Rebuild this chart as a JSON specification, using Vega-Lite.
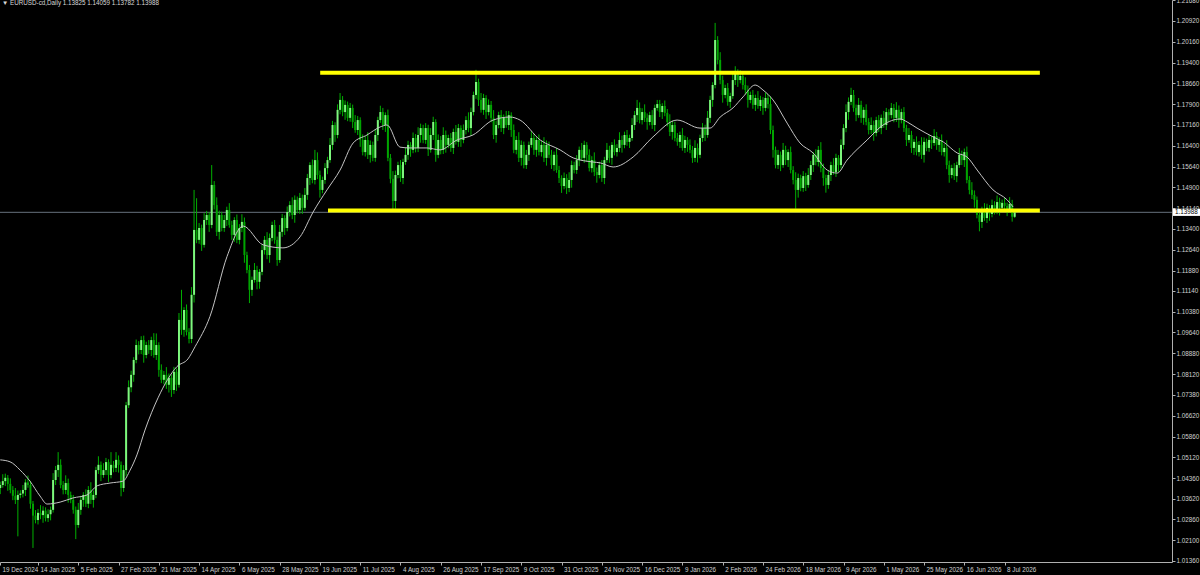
{
"$schema": "https://vega.github.io/schema/vega-lite/v6.json",
"width": 1172,
"height": 562,
"autosize": "none",
"padding": {"left": 0, "top": 0, "right": 28, "bottom": 13},
"background": "#000000",
"config": {"view": {"stroke": null}, "font": "Liberation Sans", "axis": {"labelOverlap": false, "labelBound": false, "labelFlush": false, "grid": false, "labelFont": "Liberation Sans", "labelFontSize": 6.3, "labelColor": "#D0D0D0", "domainColor": "#B0B0B0", "tickColor": "#B0B0B0", "tickSize": 3, "labelPadding": 1, "title": null}},
"title": {"text": "▼ EURUSD-cd,Daily  1.13825 1.14059 1.13782 1.13988", "anchor": "start", "frame": "group", "orient": "top", "offset": -9, "fontSize": 6.3, "fontWeight": "normal", "color": "#D8D8D8", "dx": 2, "font": "Liberation Sans"},
"datasets": {
"k": [
{"i":1,"o":1.0400,"h":1.0423,"l":1.0378,"c":1.0411},
{"i":2,"o":1.0411,"h":1.0450,"l":1.0401,"c":1.0425},
{"i":3,"o":1.0425,"h":1.0452,"l":1.0407,"c":1.0437},
{"i":4,"o":1.0437,"h":1.0447,"l":1.0390,"c":1.0415},
{"i":5,"o":1.0415,"h":1.0435,"l":1.0381,"c":1.0393},
{"i":6,"o":1.0393,"h":1.0407,"l":1.0356,"c":1.0372},
{"i":7,"o":1.0372,"h":1.0400,"l":1.0342,"c":1.0357},
{"i":8,"o":1.0357,"h":1.0391,"l":1.0225,"c":1.0375},
{"i":9,"o":1.0375,"h":1.0392,"l":1.0363,"c":1.0380},
{"i":10,"o":1.0380,"h":1.0411,"l":1.0366,"c":1.0393},
{"i":11,"o":1.0393,"h":1.0432,"l":1.0371,"c":1.0420},
{"i":12,"o":1.0420,"h":1.0445,"l":1.0401,"c":1.0411},
{"i":13,"o":1.0411,"h":1.0426,"l":1.0325,"c":1.0343},
{"i":14,"o":1.0343,"h":1.0353,"l":1.0183,"c":1.0300},
{"i":15,"o":1.0300,"h":1.0320,"l":1.0272,"c":1.0284},
{"i":16,"o":1.0284,"h":1.0324,"l":1.0268,"c":1.0310},
{"i":17,"o":1.0310,"h":1.0338,"l":1.0287,"c":1.0302},
{"i":18,"o":1.0302,"h":1.0334,"l":1.0274,"c":1.0318},
{"i":19,"o":1.0318,"h":1.0330,"l":1.0279,"c":1.0291},
{"i":20,"o":1.0291,"h":1.0323,"l":1.0277,"c":1.0305},
{"i":21,"o":1.0305,"h":1.0333,"l":1.0283,"c":1.0321},
{"i":22,"o":1.0321,"h":1.0454,"l":1.0311,"c":1.0429},
{"i":23,"o":1.0429,"h":1.0480,"l":1.0411,"c":1.0465},
{"i":24,"o":1.0465,"h":1.0530,"l":1.0440,"c":1.0484},
{"i":25,"o":1.0484,"h":1.0504,"l":1.0399,"c":1.0411},
{"i":26,"o":1.0411,"h":1.0425,"l":1.0377,"c":1.0393},
{"i":27,"o":1.0393,"h":1.0446,"l":1.0378,"c":1.0418},
{"i":28,"o":1.0418,"h":1.0434,"l":1.0347,"c":1.0375},
{"i":29,"o":1.0375,"h":1.0387,"l":1.0345,"c":1.0357},
{"i":30,"o":1.0357,"h":1.0375,"l":1.0307,"c":1.0321},
{"i":31,"o":1.0321,"h":1.0333,"l":1.0215,"c":1.0266},
{"i":32,"o":1.0266,"h":1.0346,"l":1.0256,"c":1.0321},
{"i":33,"o":1.0321,"h":1.0372,"l":1.0303,"c":1.0357},
{"i":34,"o":1.0357,"h":1.0385,"l":1.0332,"c":1.0375},
{"i":35,"o":1.0375,"h":1.0395,"l":1.0331,"c":1.0343},
{"i":36,"o":1.0343,"h":1.0407,"l":1.0327,"c":1.0393},
{"i":37,"o":1.0393,"h":1.0421,"l":1.0342,"c":1.0357},
{"i":38,"o":1.0357,"h":1.0391,"l":1.0329,"c":1.0375},
{"i":39,"o":1.0375,"h":1.0477,"l":1.0363,"c":1.0465},
{"i":40,"o":1.0465,"h":1.0515,"l":1.0451,"c":1.0484},
{"i":41,"o":1.0484,"h":1.0496,"l":1.0425,"c":1.0447},
{"i":42,"o":1.0447,"h":1.0490,"l":1.0437,"c":1.0465},
{"i":43,"o":1.0465,"h":1.0509,"l":1.0447,"c":1.0494},
{"i":44,"o":1.0494,"h":1.0504,"l":1.0422,"c":1.0447},
{"i":45,"o":1.0447,"h":1.0530,"l":1.0435,"c":1.0484},
{"i":46,"o":1.0484,"h":1.0498,"l":1.0457,"c":1.0473},
{"i":47,"o":1.0473,"h":1.0530,"l":1.0458,"c":1.0502},
{"i":48,"o":1.0502,"h":1.0518,"l":1.0456,"c":1.0484},
{"i":49,"o":1.0484,"h":1.0496,"l":1.0370,"c":1.0400},
{"i":50,"o":1.0400,"h":1.0483,"l":1.0386,"c":1.0465},
{"i":51,"o":1.0465,"h":1.0712,"l":1.0443,"c":1.0700},
{"i":52,"o":1.0700,"h":1.0790,"l":1.0690,"c":1.0765},
{"i":53,"o":1.0765,"h":1.0825,"l":1.0747,"c":1.0810},
{"i":54,"o":1.0810,"h":1.0874,"l":1.0785,"c":1.0864},
{"i":55,"o":1.0864,"h":1.0938,"l":1.0852,"c":1.0918},
{"i":56,"o":1.0918,"h":1.0932,"l":1.0884,"c":1.0900},
{"i":57,"o":1.0900,"h":1.0950,"l":1.0885,"c":1.0936},
{"i":58,"o":1.0936,"h":1.0952,"l":1.0854,"c":1.0882},
{"i":59,"o":1.0882,"h":1.0930,"l":1.0870,"c":1.0918},
{"i":60,"o":1.0918,"h":1.0936,"l":1.0886,"c":1.0900},
{"i":61,"o":1.0900,"h":1.0948,"l":1.0878,"c":1.0936},
{"i":62,"o":1.0936,"h":1.0961,"l":1.0872,"c":1.0882},
{"i":63,"o":1.0882,"h":1.0960,"l":1.0864,"c":1.0918},
{"i":64,"o":1.0918,"h":1.0928,"l":1.0803,"c":1.0828},
{"i":65,"o":1.0828,"h":1.0848,"l":1.0780,"c":1.0792},
{"i":66,"o":1.0792,"h":1.0824,"l":1.0776,"c":1.0810},
{"i":67,"o":1.0810,"h":1.0838,"l":1.0759,"c":1.0774},
{"i":68,"o":1.0774,"h":1.0815,"l":1.0746,"c":1.0799},
{"i":69,"o":1.0799,"h":1.0811,"l":1.0730,"c":1.0755},
{"i":70,"o":1.0755,"h":1.0839,"l":1.0741,"c":1.0821},
{"i":71,"o":1.0821,"h":1.0833,"l":1.0752,"c":1.0774},
{"i":72,"o":1.0774,"h":1.1034,"l":1.0764,"c":1.1009},
{"i":73,"o":1.1009,"h":1.1118,"l":1.0955,"c":1.0973},
{"i":74,"o":1.0973,"h":1.1055,"l":1.0948,"c":1.1045},
{"i":75,"o":1.1045,"h":1.1065,"l":1.0953,"c":1.0965},
{"i":76,"o":1.0965,"h":1.0979,"l":1.0924,"c":1.0940},
{"i":77,"o":1.0940,"h":1.1128,"l":1.0925,"c":1.1100},
{"i":78,"o":1.1100,"h":1.1480,"l":1.1072,"c":1.1335},
{"i":79,"o":1.1335,"h":1.1450,"l":1.1287,"c":1.1299},
{"i":80,"o":1.1299,"h":1.1360,"l":1.1285,"c":1.1342},
{"i":81,"o":1.1342,"h":1.1354,"l":1.1259,"c":1.1281},
{"i":82,"o":1.1281,"h":1.1396,"l":1.1271,"c":1.1371},
{"i":83,"o":1.1371,"h":1.1404,"l":1.1353,"c":1.1389},
{"i":84,"o":1.1389,"h":1.1399,"l":1.1328,"c":1.1353},
{"i":85,"o":1.1353,"h":1.1570,"l":1.1341,"c":1.1498},
{"i":86,"o":1.1498,"h":1.1512,"l":1.1409,"c":1.1425},
{"i":87,"o":1.1425,"h":1.1453,"l":1.1313,"c":1.1328},
{"i":88,"o":1.1328,"h":1.1405,"l":1.1300,"c":1.1389},
{"i":89,"o":1.1389,"h":1.1401,"l":1.1330,"c":1.1342},
{"i":90,"o":1.1342,"h":1.1389,"l":1.1328,"c":1.1371},
{"i":91,"o":1.1371,"h":1.1419,"l":1.1349,"c":1.1407},
{"i":92,"o":1.1407,"h":1.1432,"l":1.1343,"c":1.1353},
{"i":93,"o":1.1353,"h":1.1368,"l":1.1299,"c":1.1317},
{"i":94,"o":1.1317,"h":1.1381,"l":1.1292,"c":1.1371},
{"i":95,"o":1.1371,"h":1.1391,"l":1.1287,"c":1.1299},
{"i":96,"o":1.1299,"h":1.1356,"l":1.1283,"c":1.1342},
{"i":97,"o":1.1342,"h":1.1392,"l":1.1327,"c":1.1364},
{"i":98,"o":1.1364,"h":1.1380,"l":1.1216,"c":1.1244},
{"i":99,"o":1.1244,"h":1.1256,"l":1.1178,"c":1.1190},
{"i":100,"o":1.1190,"h":1.1208,"l":1.1070,"c":1.1118},
{"i":101,"o":1.1118,"h":1.1166,"l":1.1096,"c":1.1154},
{"i":102,"o":1.1154,"h":1.1215,"l":1.1144,"c":1.1190},
{"i":103,"o":1.1190,"h":1.1205,"l":1.1120,"c":1.1147},
{"i":104,"o":1.1147,"h":1.1193,"l":1.1122,"c":1.1183},
{"i":105,"o":1.1183,"h":1.1282,"l":1.1171,"c":1.1262},
{"i":106,"o":1.1262,"h":1.1313,"l":1.1246,"c":1.1299},
{"i":107,"o":1.1299,"h":1.1327,"l":1.1229,"c":1.1244},
{"i":108,"o":1.1244,"h":1.1322,"l":1.1216,"c":1.1306},
{"i":109,"o":1.1306,"h":1.1365,"l":1.1294,"c":1.1353},
{"i":110,"o":1.1353,"h":1.1371,"l":1.1285,"c":1.1299},
{"i":111,"o":1.1299,"h":1.1311,"l":1.1205,"c":1.1226},
{"i":112,"o":1.1226,"h":1.1353,"l":1.1216,"c":1.1328},
{"i":113,"o":1.1328,"h":1.1393,"l":1.1310,"c":1.1378},
{"i":114,"o":1.1378,"h":1.1388,"l":1.1317,"c":1.1342},
{"i":115,"o":1.1342,"h":1.1420,"l":1.1330,"c":1.1400},
{"i":116,"o":1.1400,"h":1.1439,"l":1.1384,"c":1.1425},
{"i":117,"o":1.1425,"h":1.1453,"l":1.1374,"c":1.1389},
{"i":118,"o":1.1389,"h":1.1460,"l":1.1361,"c":1.1444},
{"i":119,"o":1.1444,"h":1.1456,"l":1.1395,"c":1.1407},
{"i":120,"o":1.1407,"h":1.1469,"l":1.1393,"c":1.1451},
{"i":121,"o":1.1451,"h":1.1463,"l":1.1393,"c":1.1415},
{"i":122,"o":1.1415,"h":1.1487,"l":1.1405,"c":1.1462},
{"i":123,"o":1.1462,"h":1.1538,"l":1.1444,"c":1.1523},
{"i":124,"o":1.1523,"h":1.1580,"l":1.1498,"c":1.1570},
{"i":125,"o":1.1570,"h":1.1590,"l":1.1504,"c":1.1516},
{"i":126,"o":1.1516,"h":1.1625,"l":1.1500,"c":1.1588},
{"i":127,"o":1.1588,"h":1.1616,"l":1.1519,"c":1.1534},
{"i":128,"o":1.1534,"h":1.1550,"l":1.1452,"c":1.1480},
{"i":129,"o":1.1480,"h":1.1528,"l":1.1468,"c":1.1516},
{"i":130,"o":1.1516,"h":1.1577,"l":1.1502,"c":1.1559},
{"i":131,"o":1.1559,"h":1.1600,"l":1.1537,"c":1.1588},
{"i":132,"o":1.1588,"h":1.1668,"l":1.1578,"c":1.1643},
{"i":133,"o":1.1643,"h":1.1730,"l":1.1625,"c":1.1715},
{"i":134,"o":1.1715,"h":1.1725,"l":1.1654,"c":1.1679},
{"i":135,"o":1.1679,"h":1.1790,"l":1.1667,"c":1.1770},
{"i":136,"o":1.1770,"h":1.1831,"l":1.1754,"c":1.1806},
{"i":137,"o":1.1806,"h":1.1820,"l":1.1747,"c":1.1762},
{"i":138,"o":1.1762,"h":1.1804,"l":1.1734,"c":1.1788},
{"i":139,"o":1.1788,"h":1.1800,"l":1.1729,"c":1.1741},
{"i":140,"o":1.1741,"h":1.1795,"l":1.1727,"c":1.1777},
{"i":141,"o":1.1777,"h":1.1789,"l":1.1704,"c":1.1726},
{"i":142,"o":1.1726,"h":1.1751,"l":1.1687,"c":1.1697},
{"i":143,"o":1.1697,"h":1.1748,"l":1.1679,"c":1.1733},
{"i":144,"o":1.1733,"h":1.1743,"l":1.1636,"c":1.1661},
{"i":145,"o":1.1661,"h":1.1681,"l":1.1605,"c":1.1617},
{"i":146,"o":1.1617,"h":1.1675,"l":1.1601,"c":1.1661},
{"i":147,"o":1.1661,"h":1.1689,"l":1.1592,"c":1.1607},
{"i":148,"o":1.1607,"h":1.1659,"l":1.1579,"c":1.1643},
{"i":149,"o":1.1643,"h":1.1655,"l":1.1584,"c":1.1596},
{"i":150,"o":1.1596,"h":1.1697,"l":1.1582,"c":1.1679},
{"i":151,"o":1.1679,"h":1.1745,"l":1.1657,"c":1.1733},
{"i":152,"o":1.1733,"h":1.1785,"l":1.1723,"c":1.1762},
{"i":153,"o":1.1762,"h":1.1777,"l":1.1697,"c":1.1715},
{"i":154,"o":1.1715,"h":1.1761,"l":1.1690,"c":1.1751},
{"i":155,"o":1.1751,"h":1.1771,"l":1.1584,"c":1.1596},
{"i":156,"o":1.1596,"h":1.1610,"l":1.1504,"c":1.1520},
{"i":157,"o":1.1520,"h":1.1548,"l":1.1405,"c":1.1440},
{"i":158,"o":1.1440,"h":1.1550,"l":1.1412,"c":1.1534},
{"i":159,"o":1.1534,"h":1.1582,"l":1.1522,"c":1.1570},
{"i":160,"o":1.1570,"h":1.1588,"l":1.1509,"c":1.1523},
{"i":161,"o":1.1523,"h":1.1593,"l":1.1501,"c":1.1581},
{"i":162,"o":1.1581,"h":1.1632,"l":1.1571,"c":1.1607},
{"i":163,"o":1.1607,"h":1.1658,"l":1.1589,"c":1.1643},
{"i":164,"o":1.1643,"h":1.1653,"l":1.1600,"c":1.1625},
{"i":165,"o":1.1625,"h":1.1688,"l":1.1613,"c":1.1668},
{"i":166,"o":1.1668,"h":1.1682,"l":1.1616,"c":1.1632},
{"i":167,"o":1.1632,"h":1.1707,"l":1.1617,"c":1.1679},
{"i":168,"o":1.1679,"h":1.1720,"l":1.1651,"c":1.1704},
{"i":169,"o":1.1704,"h":1.1716,"l":1.1649,"c":1.1661},
{"i":170,"o":1.1661,"h":1.1722,"l":1.1647,"c":1.1704},
{"i":171,"o":1.1704,"h":1.1716,"l":1.1603,"c":1.1625},
{"i":172,"o":1.1625,"h":1.1704,"l":1.1615,"c":1.1679},
{"i":173,"o":1.1679,"h":1.1745,"l":1.1661,"c":1.1726},
{"i":174,"o":1.1726,"h":1.1736,"l":1.1582,"c":1.1607},
{"i":175,"o":1.1607,"h":1.1681,"l":1.1595,"c":1.1661},
{"i":176,"o":1.1661,"h":1.1675,"l":1.1609,"c":1.1625},
{"i":177,"o":1.1625,"h":1.1707,"l":1.1610,"c":1.1679},
{"i":178,"o":1.1679,"h":1.1695,"l":1.1615,"c":1.1643},
{"i":179,"o":1.1643,"h":1.1680,"l":1.1631,"c":1.1668},
{"i":180,"o":1.1668,"h":1.1686,"l":1.1618,"c":1.1632},
{"i":181,"o":1.1632,"h":1.1702,"l":1.1610,"c":1.1690},
{"i":182,"o":1.1690,"h":1.1715,"l":1.1644,"c":1.1654},
{"i":183,"o":1.1654,"h":1.1719,"l":1.1636,"c":1.1704},
{"i":184,"o":1.1704,"h":1.1714,"l":1.1636,"c":1.1661},
{"i":185,"o":1.1661,"h":1.1717,"l":1.1649,"c":1.1697},
{"i":186,"o":1.1697,"h":1.1747,"l":1.1681,"c":1.1733},
{"i":187,"o":1.1733,"h":1.1761,"l":1.1689,"c":1.1704},
{"i":188,"o":1.1704,"h":1.1778,"l":1.1676,"c":1.1762},
{"i":189,"o":1.1762,"h":1.1836,"l":1.1750,"c":1.1824},
{"i":190,"o":1.1824,"h":1.1915,"l":1.1810,"c":1.1871},
{"i":191,"o":1.1871,"h":1.1883,"l":1.1784,"c":1.1806},
{"i":192,"o":1.1806,"h":1.1831,"l":1.1760,"c":1.1770},
{"i":193,"o":1.1770,"h":1.1828,"l":1.1752,"c":1.1813},
{"i":194,"o":1.1813,"h":1.1823,"l":1.1737,"c":1.1762},
{"i":195,"o":1.1762,"h":1.1808,"l":1.1750,"c":1.1788},
{"i":196,"o":1.1788,"h":1.1802,"l":1.1725,"c":1.1741},
{"i":197,"o":1.1741,"h":1.1769,"l":1.1664,"c":1.1679},
{"i":198,"o":1.1679,"h":1.1731,"l":1.1651,"c":1.1715},
{"i":199,"o":1.1715,"h":1.1763,"l":1.1703,"c":1.1751},
{"i":200,"o":1.1751,"h":1.1769,"l":1.1690,"c":1.1704},
{"i":201,"o":1.1704,"h":1.1753,"l":1.1682,"c":1.1741},
{"i":202,"o":1.1741,"h":1.1766,"l":1.1705,"c":1.1715},
{"i":203,"o":1.1715,"h":1.1766,"l":1.1697,"c":1.1751},
{"i":204,"o":1.1751,"h":1.1761,"l":1.1672,"c":1.1697},
{"i":205,"o":1.1697,"h":1.1717,"l":1.1613,"c":1.1625},
{"i":206,"o":1.1625,"h":1.1675,"l":1.1609,"c":1.1661},
{"i":207,"o":1.1661,"h":1.1689,"l":1.1581,"c":1.1596},
{"i":208,"o":1.1596,"h":1.1659,"l":1.1568,"c":1.1643},
{"i":209,"o":1.1643,"h":1.1655,"l":1.1558,"c":1.1570},
{"i":210,"o":1.1570,"h":1.1625,"l":1.1556,"c":1.1607},
{"i":211,"o":1.1607,"h":1.1655,"l":1.1585,"c":1.1643},
{"i":212,"o":1.1643,"h":1.1693,"l":1.1633,"c":1.1668},
{"i":213,"o":1.1668,"h":1.1683,"l":1.1607,"c":1.1625},
{"i":214,"o":1.1625,"h":1.1671,"l":1.1600,"c":1.1661},
{"i":215,"o":1.1661,"h":1.1681,"l":1.1605,"c":1.1617},
{"i":216,"o":1.1617,"h":1.1657,"l":1.1601,"c":1.1643},
{"i":217,"o":1.1643,"h":1.1671,"l":1.1581,"c":1.1596},
{"i":218,"o":1.1596,"h":1.1659,"l":1.1568,"c":1.1643},
{"i":219,"o":1.1643,"h":1.1655,"l":1.1595,"c":1.1607},
{"i":220,"o":1.1607,"h":1.1625,"l":1.1556,"c":1.1570},
{"i":221,"o":1.1570,"h":1.1619,"l":1.1548,"c":1.1607},
{"i":222,"o":1.1607,"h":1.1632,"l":1.1542,"c":1.1552},
{"i":223,"o":1.1552,"h":1.1567,"l":1.1505,"c":1.1523},
{"i":224,"o":1.1523,"h":1.1533,"l":1.1469,"c":1.1494},
{"i":225,"o":1.1494,"h":1.1543,"l":1.1482,"c":1.1523},
{"i":226,"o":1.1523,"h":1.1537,"l":1.1465,"c":1.1487},
{"i":227,"o":1.1487,"h":1.1544,"l":1.1472,"c":1.1516},
{"i":228,"o":1.1516,"h":1.1586,"l":1.1488,"c":1.1570},
{"i":229,"o":1.1570,"h":1.1582,"l":1.1540,"c":1.1552},
{"i":230,"o":1.1552,"h":1.1606,"l":1.1538,"c":1.1588},
{"i":231,"o":1.1588,"h":1.1637,"l":1.1566,"c":1.1625},
{"i":232,"o":1.1625,"h":1.1650,"l":1.1586,"c":1.1596},
{"i":233,"o":1.1596,"h":1.1658,"l":1.1578,"c":1.1643},
{"i":234,"o":1.1643,"h":1.1653,"l":1.1582,"c":1.1607},
{"i":235,"o":1.1607,"h":1.1627,"l":1.1547,"c":1.1559},
{"i":236,"o":1.1559,"h":1.1602,"l":1.1543,"c":1.1588},
{"i":237,"o":1.1588,"h":1.1616,"l":1.1530,"c":1.1545},
{"i":238,"o":1.1545,"h":1.1561,"l":1.1506,"c":1.1534},
{"i":239,"o":1.1534,"h":1.1582,"l":1.1522,"c":1.1570},
{"i":240,"o":1.1570,"h":1.1588,"l":1.1509,"c":1.1523},
{"i":241,"o":1.1523,"h":1.1600,"l":1.1501,"c":1.1588},
{"i":242,"o":1.1588,"h":1.1650,"l":1.1578,"c":1.1625},
{"i":243,"o":1.1625,"h":1.1640,"l":1.1578,"c":1.1596},
{"i":244,"o":1.1596,"h":1.1653,"l":1.1571,"c":1.1643},
{"i":245,"o":1.1643,"h":1.1663,"l":1.1605,"c":1.1617},
{"i":246,"o":1.1617,"h":1.1646,"l":1.1601,"c":1.1632},
{"i":247,"o":1.1632,"h":1.1689,"l":1.1617,"c":1.1661},
{"i":248,"o":1.1661,"h":1.1677,"l":1.1615,"c":1.1643},
{"i":249,"o":1.1643,"h":1.1691,"l":1.1631,"c":1.1679},
{"i":250,"o":1.1679,"h":1.1697,"l":1.1640,"c":1.1654},
{"i":251,"o":1.1654,"h":1.1680,"l":1.1632,"c":1.1668},
{"i":252,"o":1.1668,"h":1.1740,"l":1.1658,"c":1.1715},
{"i":253,"o":1.1715,"h":1.1766,"l":1.1697,"c":1.1751},
{"i":254,"o":1.1751,"h":1.1806,"l":1.1726,"c":1.1777},
{"i":255,"o":1.1777,"h":1.1797,"l":1.1721,"c":1.1733},
{"i":256,"o":1.1733,"h":1.1776,"l":1.1717,"c":1.1762},
{"i":257,"o":1.1762,"h":1.1790,"l":1.1726,"c":1.1741},
{"i":258,"o":1.1741,"h":1.1757,"l":1.1698,"c":1.1726},
{"i":259,"o":1.1726,"h":1.1763,"l":1.1714,"c":1.1751},
{"i":260,"o":1.1751,"h":1.1769,"l":1.1701,"c":1.1715},
{"i":261,"o":1.1715,"h":1.1789,"l":1.1693,"c":1.1777},
{"i":262,"o":1.1777,"h":1.1806,"l":1.1767,"c":1.1791},
{"i":263,"o":1.1791,"h":1.1806,"l":1.1744,"c":1.1762},
{"i":264,"o":1.1762,"h":1.1794,"l":1.1737,"c":1.1784},
{"i":265,"o":1.1784,"h":1.1804,"l":1.1747,"c":1.1759},
{"i":266,"o":1.1759,"h":1.1773,"l":1.1710,"c":1.1726},
{"i":267,"o":1.1726,"h":1.1754,"l":1.1675,"c":1.1690},
{"i":268,"o":1.1690,"h":1.1731,"l":1.1662,"c":1.1715},
{"i":269,"o":1.1715,"h":1.1727,"l":1.1656,"c":1.1668},
{"i":270,"o":1.1668,"h":1.1686,"l":1.1640,"c":1.1654},
{"i":271,"o":1.1654,"h":1.1691,"l":1.1632,"c":1.1679},
{"i":272,"o":1.1679,"h":1.1704,"l":1.1622,"c":1.1632},
{"i":273,"o":1.1632,"h":1.1676,"l":1.1614,"c":1.1661},
{"i":274,"o":1.1661,"h":1.1671,"l":1.1618,"c":1.1643},
{"i":275,"o":1.1643,"h":1.1663,"l":1.1613,"c":1.1625},
{"i":276,"o":1.1625,"h":1.1639,"l":1.1578,"c":1.1596},
{"i":277,"o":1.1596,"h":1.1660,"l":1.1581,"c":1.1632},
{"i":278,"o":1.1632,"h":1.1648,"l":1.1579,"c":1.1607},
{"i":279,"o":1.1607,"h":1.1680,"l":1.1595,"c":1.1668},
{"i":280,"o":1.1668,"h":1.1722,"l":1.1654,"c":1.1704},
{"i":281,"o":1.1704,"h":1.1716,"l":1.1657,"c":1.1679},
{"i":282,"o":1.1679,"h":1.1766,"l":1.1669,"c":1.1741},
{"i":283,"o":1.1741,"h":1.1821,"l":1.1723,"c":1.1806},
{"i":284,"o":1.1806,"h":1.1870,"l":1.1781,"c":1.1860},
{"i":285,"o":1.1860,"h":1.2085,"l":1.1848,"c":1.2023},
{"i":286,"o":1.2023,"h":1.2037,"l":1.1935,"c":1.1951},
{"i":287,"o":1.1951,"h":1.1979,"l":1.1863,"c":1.1878},
{"i":288,"o":1.1878,"h":1.1894,"l":1.1796,"c":1.1824},
{"i":289,"o":1.1824,"h":1.1861,"l":1.1812,"c":1.1849},
{"i":290,"o":1.1849,"h":1.1867,"l":1.1785,"c":1.1799},
{"i":291,"o":1.1799,"h":1.1832,"l":1.1777,"c":1.1820},
{"i":292,"o":1.1820,"h":1.1903,"l":1.1810,"c":1.1878},
{"i":293,"o":1.1878,"h":1.1928,"l":1.1860,"c":1.1907},
{"i":294,"o":1.1907,"h":1.1917,"l":1.1853,"c":1.1878},
{"i":295,"o":1.1878,"h":1.1913,"l":1.1866,"c":1.1893},
{"i":296,"o":1.1893,"h":1.1907,"l":1.1844,"c":1.1860},
{"i":297,"o":1.1860,"h":1.1888,"l":1.1827,"c":1.1842},
{"i":298,"o":1.1842,"h":1.1858,"l":1.1778,"c":1.1806},
{"i":299,"o":1.1806,"h":1.1836,"l":1.1794,"c":1.1824},
{"i":300,"o":1.1824,"h":1.1842,"l":1.1774,"c":1.1788},
{"i":301,"o":1.1788,"h":1.1825,"l":1.1766,"c":1.1813},
{"i":302,"o":1.1813,"h":1.1838,"l":1.1774,"c":1.1784},
{"i":303,"o":1.1784,"h":1.1821,"l":1.1766,"c":1.1806},
{"i":304,"o":1.1806,"h":1.1816,"l":1.1752,"c":1.1777},
{"i":305,"o":1.1777,"h":1.1833,"l":1.1765,"c":1.1813},
{"i":306,"o":1.1813,"h":1.1827,"l":1.1775,"c":1.1791},
{"i":307,"o":1.1791,"h":1.1819,"l":1.1682,"c":1.1697},
{"i":308,"o":1.1697,"h":1.1713,"l":1.1597,"c":1.1625},
{"i":309,"o":1.1625,"h":1.1637,"l":1.1558,"c":1.1570},
{"i":310,"o":1.1570,"h":1.1625,"l":1.1556,"c":1.1607},
{"i":311,"o":1.1607,"h":1.1619,"l":1.1548,"c":1.1570},
{"i":312,"o":1.1570,"h":1.1650,"l":1.1560,"c":1.1625},
{"i":313,"o":1.1625,"h":1.1640,"l":1.1570,"c":1.1588},
{"i":314,"o":1.1588,"h":1.1627,"l":1.1563,"c":1.1617},
{"i":315,"o":1.1617,"h":1.1637,"l":1.1540,"c":1.1552},
{"i":316,"o":1.1552,"h":1.1566,"l":1.1500,"c":1.1516},
{"i":317,"o":1.1516,"h":1.1544,"l":1.1412,"c":1.1480},
{"i":318,"o":1.1480,"h":1.1539,"l":1.1452,"c":1.1523},
{"i":319,"o":1.1523,"h":1.1535,"l":1.1475,"c":1.1487},
{"i":320,"o":1.1487,"h":1.1548,"l":1.1473,"c":1.1530},
{"i":321,"o":1.1530,"h":1.1542,"l":1.1476,"c":1.1498},
{"i":322,"o":1.1498,"h":1.1559,"l":1.1488,"c":1.1534},
{"i":323,"o":1.1534,"h":1.1585,"l":1.1516,"c":1.1570},
{"i":324,"o":1.1570,"h":1.1617,"l":1.1545,"c":1.1607},
{"i":325,"o":1.1607,"h":1.1627,"l":1.1569,"c":1.1581},
{"i":326,"o":1.1581,"h":1.1639,"l":1.1565,"c":1.1625},
{"i":327,"o":1.1625,"h":1.1653,"l":1.1544,"c":1.1559},
{"i":328,"o":1.1559,"h":1.1575,"l":1.1495,"c":1.1523},
{"i":329,"o":1.1523,"h":1.1535,"l":1.1470,"c":1.1498},
{"i":330,"o":1.1498,"h":1.1552,"l":1.1484,"c":1.1534},
{"i":331,"o":1.1534,"h":1.1582,"l":1.1512,"c":1.1570},
{"i":332,"o":1.1570,"h":1.1595,"l":1.1535,"c":1.1545},
{"i":333,"o":1.1545,"h":1.1611,"l":1.1527,"c":1.1596},
{"i":334,"o":1.1596,"h":1.1606,"l":1.1545,"c":1.1570},
{"i":335,"o":1.1570,"h":1.1663,"l":1.1558,"c":1.1643},
{"i":336,"o":1.1643,"h":1.1718,"l":1.1627,"c":1.1704},
{"i":337,"o":1.1704,"h":1.1790,"l":1.1689,"c":1.1762},
{"i":338,"o":1.1762,"h":1.1815,"l":1.1734,"c":1.1799},
{"i":339,"o":1.1799,"h":1.1850,"l":1.1787,"c":1.1824},
{"i":340,"o":1.1824,"h":1.1842,"l":1.1763,"c":1.1777},
{"i":341,"o":1.1777,"h":1.1789,"l":1.1729,"c":1.1751},
{"i":342,"o":1.1751,"h":1.1813,"l":1.1741,"c":1.1788},
{"i":343,"o":1.1788,"h":1.1803,"l":1.1723,"c":1.1741},
{"i":344,"o":1.1741,"h":1.1780,"l":1.1716,"c":1.1770},
{"i":345,"o":1.1770,"h":1.1790,"l":1.1714,"c":1.1726},
{"i":346,"o":1.1726,"h":1.1740,"l":1.1681,"c":1.1697},
{"i":347,"o":1.1697,"h":1.1743,"l":1.1682,"c":1.1715},
{"i":348,"o":1.1715,"h":1.1731,"l":1.1658,"c":1.1686},
{"i":349,"o":1.1686,"h":1.1745,"l":1.1674,"c":1.1733},
{"i":350,"o":1.1733,"h":1.1751,"l":1.1690,"c":1.1704},
{"i":351,"o":1.1704,"h":1.1753,"l":1.1682,"c":1.1741},
{"i":352,"o":1.1741,"h":1.1766,"l":1.1705,"c":1.1715},
{"i":353,"o":1.1715,"h":1.1777,"l":1.1697,"c":1.1762},
{"i":354,"o":1.1762,"h":1.1772,"l":1.1726,"c":1.1751},
{"i":355,"o":1.1751,"h":1.1795,"l":1.1739,"c":1.1777},
{"i":356,"o":1.1777,"h":1.1791,"l":1.1725,"c":1.1741},
{"i":357,"o":1.1741,"h":1.1798,"l":1.1726,"c":1.1770},
{"i":358,"o":1.1770,"h":1.1786,"l":1.1705,"c":1.1733},
{"i":359,"o":1.1733,"h":1.1774,"l":1.1721,"c":1.1762},
{"i":360,"o":1.1762,"h":1.1780,"l":1.1690,"c":1.1704},
{"i":361,"o":1.1704,"h":1.1716,"l":1.1639,"c":1.1661},
{"i":362,"o":1.1661,"h":1.1704,"l":1.1651,"c":1.1679},
{"i":363,"o":1.1679,"h":1.1694,"l":1.1614,"c":1.1632},
{"i":364,"o":1.1632,"h":1.1664,"l":1.1607,"c":1.1654},
{"i":365,"o":1.1654,"h":1.1674,"l":1.1605,"c":1.1617},
{"i":366,"o":1.1617,"h":1.1657,"l":1.1601,"c":1.1643},
{"i":367,"o":1.1643,"h":1.1671,"l":1.1592,"c":1.1607},
{"i":368,"o":1.1607,"h":1.1670,"l":1.1579,"c":1.1654},
{"i":369,"o":1.1654,"h":1.1666,"l":1.1620,"c":1.1632},
{"i":370,"o":1.1632,"h":1.1679,"l":1.1618,"c":1.1661},
{"i":371,"o":1.1661,"h":1.1673,"l":1.1628,"c":1.1650},
{"i":372,"o":1.1650,"h":1.1700,"l":1.1640,"c":1.1675},
{"i":373,"o":1.1675,"h":1.1690,"l":1.1625,"c":1.1643},
{"i":374,"o":1.1643,"h":1.1671,"l":1.1618,"c":1.1661},
{"i":375,"o":1.1661,"h":1.1681,"l":1.1605,"c":1.1617},
{"i":376,"o":1.1617,"h":1.1646,"l":1.1601,"c":1.1632},
{"i":377,"o":1.1632,"h":1.1660,"l":1.1555,"c":1.1570},
{"i":378,"o":1.1570,"h":1.1586,"l":1.1506,"c":1.1534},
{"i":379,"o":1.1534,"h":1.1571,"l":1.1522,"c":1.1559},
{"i":380,"o":1.1559,"h":1.1577,"l":1.1516,"c":1.1530},
{"i":381,"o":1.1530,"h":1.1582,"l":1.1508,"c":1.1570},
{"i":382,"o":1.1570,"h":1.1632,"l":1.1560,"c":1.1607},
{"i":383,"o":1.1607,"h":1.1622,"l":1.1570,"c":1.1588},
{"i":384,"o":1.1588,"h":1.1630,"l":1.1563,"c":1.1617},
{"i":385,"o":1.1617,"h":1.1637,"l":1.1504,"c":1.1516},
{"i":386,"o":1.1516,"h":1.1530,"l":1.1464,"c":1.1480},
{"i":387,"o":1.1480,"h":1.1508,"l":1.1447,"c":1.1462},
{"i":388,"o":1.1462,"h":1.1478,"l":1.1416,"c":1.1444},
{"i":389,"o":1.1444,"h":1.1456,"l":1.1377,"c":1.1389},
{"i":390,"o":1.1389,"h":1.1407,"l":1.1330,"c":1.1364},
{"i":391,"o":1.1364,"h":1.1419,"l":1.1342,"c":1.1407},
{"i":392,"o":1.1407,"h":1.1432,"l":1.1368,"c":1.1378},
{"i":393,"o":1.1378,"h":1.1430,"l":1.1360,"c":1.1415},
{"i":394,"o":1.1415,"h":1.1425,"l":1.1368,"c":1.1393},
{"i":395,"o":1.1393,"h":1.1445,"l":1.1381,"c":1.1425},
{"i":396,"o":1.1425,"h":1.1439,"l":1.1391,"c":1.1407},
{"i":397,"o":1.1407,"h":1.1460,"l":1.1392,"c":1.1436},
{"i":398,"o":1.1436,"h":1.1452,"l":1.1387,"c":1.1415},
{"i":399,"o":1.1415,"h":1.1445,"l":1.1403,"c":1.1433},
{"i":400,"o":1.1433,"h":1.1451,"l":1.1408,"c":1.1422},
{"i":401,"o":1.1422,"h":1.1434,"l":1.1385,"c":1.1407},
{"i":402,"o":1.1407,"h":1.1454,"l":1.1397,"c":1.1429},
{"i":403,"o":1.1429,"h":1.1444,"l":1.1365,"c":1.1383},
{"i":404,"o":1.13825,"h":1.14059,"l":1.13782,"c":1.13988}
],
"ma": [
{"i":1,"m":1.0502},{"i":4.9,"m":1.0495},{"i":8.9,"m":1.0465},{"i":12.8,"m":1.0425},{"i":16.8,"m":1.0371},{"i":19.6,"m":1.0342},{"i":24.8,"m":1.0349},{"i":29.9,"m":1.0364},{"i":35.5,"m":1.0375},{"i":39.5,"m":1.0408},{"i":44.6,"m":1.0418},{"i":49.8,"m":1.0425},{"i":52.6,"m":1.0465},{"i":55.3,"m":1.0520},{"i":58.5,"m":1.0610},{"i":63.7,"m":1.0727},{"i":71.2,"m":1.0840},{"i":75.6,"m":1.0868},{"i":78.4,"m":1.0912},{"i":84.3,"m":1.1021},{"i":91.1,"m":1.1239},{"i":97.5,"m":1.1349},{"i":105.4,"m":1.1281},{"i":113.3,"m":1.1270},{"i":120.1,"m":1.1310},{"i":125.3,"m":1.1400},{"i":130.8,"m":1.1480},{"i":136,"m":1.1552},{"i":141.2,"m":1.1650},{"i":146.7,"m":1.1679},{"i":151.9,"m":1.1708},{"i":154.7,"m":1.1715},{"i":159.8,"m":1.1635},{"i":163.8,"m":1.1632},{"i":170.5,"m":1.1632},{"i":175.7,"m":1.1625},{"i":182.5,"m":1.1661},{"i":188.8,"m":1.1679},{"i":196.8,"m":1.1733},{"i":203.5,"m":1.1744},{"i":207.5,"m":1.1733},{"i":215.5,"m":1.1661},{"i":223.4,"m":1.1625},{"i":228.6,"m":1.1596},{"i":236.5,"m":1.1581},{"i":239.3,"m":1.1578},{"i":244.5,"m":1.1563},{"i":252.4,"m":1.1599},{"i":260.3,"m":1.1672},{"i":269.9,"m":1.1733},{"i":279,"m":1.1704},{"i":283,"m":1.1704},{"i":287,"m":1.1744},{"i":292.1,"m":1.1777},{"i":296.1,"m":1.1817},{"i":300.9,"m":1.1860},{"i":304,"m":1.1842},{"i":308,"m":1.1806},{"i":313.6,"m":1.1722},{"i":318.7,"m":1.1650},{"i":323.9,"m":1.1614},{"i":329.5,"m":1.1552},{"i":333.5,"m":1.1541},{"i":337.4,"m":1.1588},{"i":345.4,"m":1.1661},{"i":351.7,"m":1.1715},{"i":358.5,"m":1.1737},{"i":361.3,"m":1.1726},{"i":365.2,"m":1.1704},{"i":371.6,"m":1.1672},{"i":375.6,"m":1.1654},{"i":381.1,"m":1.1614},{"i":385.1,"m":1.1599},{"i":389.1,"m":1.1552},{"i":395.4,"m":1.1480},{"i":401,"m":1.1444},{"i":403.4,"m":1.1418}
],
"lev": [
{"a":128.1,"b":414,"p":1.1904},
{"a":131.2,"b":414,"p":1.1405}
]
},
"layer": [
{
"data": {"values": [{"p": 1.13988}]},
"mark": {"type": "rule", "color": "#66707C", "strokeWidth": 1},
"encoding": {
"y": {"field": "p", "type": "quantitative", "title": null,
"scale": {"domain": [1.0132, 1.2168], "nice": false, "zero": false, "padding": 0},
"axis": {"orient": "right", "values": [1.0136,1.021,1.0286,1.0362,1.0436,1.0512,1.0586,1.0662,1.0738,1.0812,1.0888,1.0964,1.1038,1.1114,1.1188,1.1264,1.134,1.1414,1.149,1.1564,1.164,1.1716,1.179,1.1866,1.194,1.2016,1.2092,1.2168], "tickCount": 100, "format": ".5f", "labelOverlap": false, "title": null}}
}
},
{
"data": {"name": "k"},
"mark": {"type": "rule", "color": "#00B000", "strokeWidth": 1},
"encoding": {
"x": {"field": "i", "type": "quantitative", "title": null,
"scale": {"domain": [0.9, 466.5], "nice": false, "zero": false, "padding": 0},
"axis": {"orient": "bottom", "values": [0.9,16,32,48,64,80,96,112,128,144,160,176,192,208,224,240,256,272,288,304,320,336,352,368,384,400], "tickCount": 100, "labelExpr": "['19 Dec 2024','14 Jan 2025','5 Feb 2025','27 Feb 2025','21 Mar 2025','14 Apr 2025','6 May 2025','28 May 2025','19 Jun 2025','11 Jul 2025','4 Aug 2025','26 Aug 2025','17 Sep 2025','9 Oct 2025','31 Oct 2025','24 Nov 2025','16 Dec 2025','9 Jan 2026','2 Feb 2026','24 Feb 2026','18 Mar 2026','9 Apr 2026','1 May 2026','25 May 2026','16 Jun 2026','8 Jul 2026'][round(datum.value/16)]", "labelAlign": "left", "labelOffset": 2, "labelOverlap": false, "title": null}},
"y": {"field": "l", "type": "quantitative", "title": null},
"y2": {"field": "h"}
}
},
{
"data": {"name": "k"},
"mark": {"type": "bar", "width": 2},
"encoding": {
"x": {"field": "i", "type": "quantitative", "title": null},
"y": {"field": "o", "type": "quantitative", "title": null},
"y2": {"field": "c"},
"color": {"condition": {"test": "datum.c >= datum.o", "value": "#7DF77D"}, "value": "#00A400"}
}
},
{
"data": {"name": "ma"},
"mark": {"type": "line", "color": "#C4C4C4", "strokeWidth": 1, "interpolate": "monotone"},
"encoding": {
"x": {"field": "i", "type": "quantitative", "title": null},
"y": {"field": "m", "type": "quantitative", "title": null}
}
},
{
"data": {"name": "lev"},
"mark": {"type": "rule", "color": "#FFFF00", "strokeWidth": 4},
"encoding": {
"x": {"field": "a", "type": "quantitative", "title": null},
"x2": {"field": "b"},
"y": {"field": "p", "type": "quantitative", "title": null}
}
},
{
"data": {"values": [{"p": 1.13988, "t": "1.13988"}]},
"mark": {"type": "rect", "fill": "#FFFFFF", "clip": false},
"encoding": {
"x": {"datum": 466.9},
"x2": {"datum": 477.8},
"y": {"datum": 1.14118},
"y2": {"datum": 1.13858}
}
},
{
"data": {"values": [{"p": 1.13988, "t": "1.13988"}]},
"mark": {"type": "text", "color": "#000000", "align": "left", "baseline": "middle", "fontSize": 6.3, "font": "Liberation Sans", "dx": 3, "clip": false},
"encoding": {
"x": {"datum": 466.5},
"y": {"field": "p", "type": "quantitative", "title": null},
"text": {"field": "t"}
}
}
]
}
